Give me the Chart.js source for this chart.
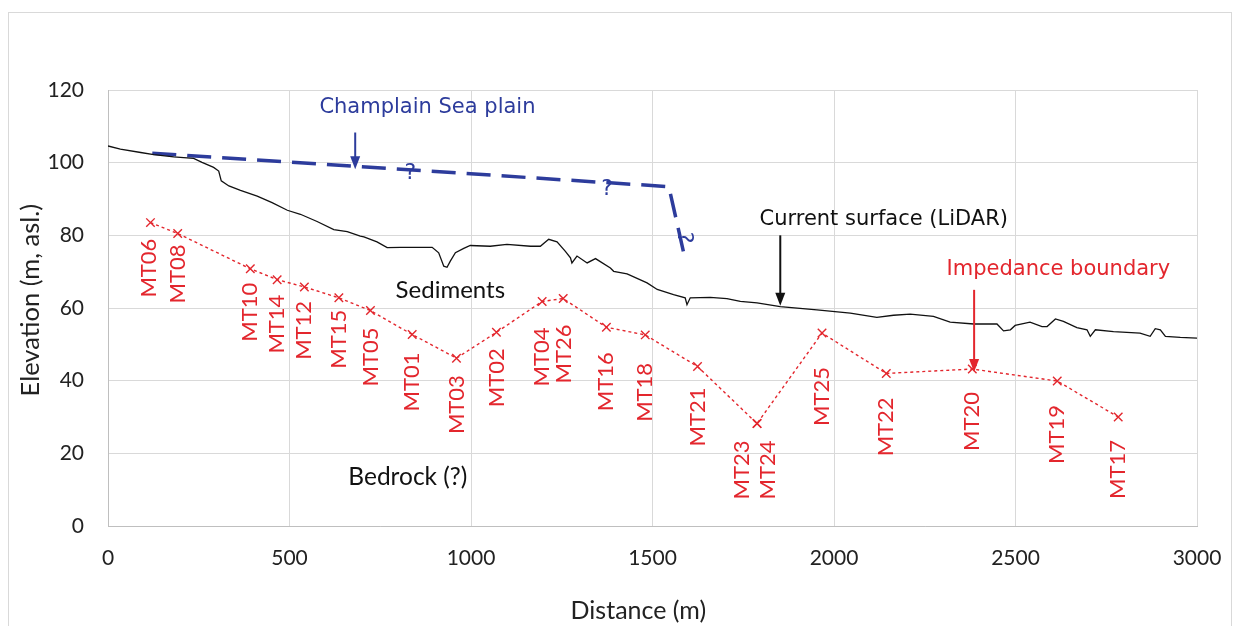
<!DOCTYPE html>
<html>
<head>
<meta charset="utf-8">
<title>Elevation profile</title>
<script src="https://cdn.jsdelivr.net/npm/chart.js@4.4.1/dist/chart.umd.min.js"></script>
<style>
  html, body { margin: 0; padding: 0; background: #ffffff; }
  #wrap { width: 1234px; height: 626px; position: relative; }
</style>
</head>
<body>
<div id="wrap"><canvas id="profile" width="1234" height="626"></canvas></div>
<script>
// ---- Ground surface from LiDAR: distance (m) and elevation (m asl) ----
const surfaceDistance = [0, 34, 90, 126, 181, 236, 259, 291, 305, 312, 333, 365, 411, 452, 494, 530, 576, 622, 659, 695,
  705, 741, 769, 806, 893, 911, 925, 934, 943, 957, 980, 998, 1053, 1099, 1164, 1191, 1214, 1237, 1260, 1274,
  1278, 1292, 1320, 1343, 1384, 1393, 1430, 1485, 1513, 1558, 1590, 1595, 1604, 1659, 1705, 1742, 1788, 1852, 1953, 2045,
  2118, 2164, 2210, 2274, 2320, 2385, 2449, 2467, 2486, 2499, 2540, 2573, 2587, 2610, 2632, 2669, 2697, 2706, 2720, 2770,
  2843, 2871, 2885, 2899, 2913, 2954, 3000];
const surfaceElevation = [104.6, 103.7, 102.8, 102.2, 101.6, 101.2, 100.1, 98.7, 97.7, 95.0, 93.6, 92.4, 90.8, 89.0, 86.9, 85.8, 83.8, 81.6, 81.0, 79.8,
  79.6, 78.2, 76.6, 76.7, 76.7, 75.2, 71.5, 71.2, 72.9, 75.2, 76.4, 77.2, 77.0, 77.5, 77.0, 77.0, 78.9, 78.2, 75.6, 73.8,
  72.4, 74.3, 72.4, 73.6, 71.0, 70.1, 69.4, 66.9, 65.1, 63.7, 62.8, 60.9, 62.8, 62.9, 62.6, 61.8, 61.4, 60.4, 59.5, 58.6,
  57.4, 58.0, 58.3, 57.7, 56.1, 55.6, 55.6, 53.7, 54.0, 55.2, 56.1, 54.9, 54.9, 57.0, 56.3, 54.6, 54.0, 52.2, 54.0, 53.5,
  53.1, 52.2, 54.3, 54.0, 52.2, 51.9, 51.7];

// ---- Interpreted Champlain Sea plain ----
const plainDistance = [122, 1545, 1591];
const plainElevation = [102.6, 93.4, 72.9];

// ---- MT soundings: impedance boundary depth ----
const mtStations = ['MT06', 'MT08', 'MT10', 'MT14', 'MT12', 'MT15', 'MT05', 'MT01', 'MT03', 'MT02', 'MT04',
  'MT26', 'MT16', 'MT18', 'MT21', 'MT23', 'MT24', 'MT25', 'MT22', 'MT20', 'MT19', 'MT17'];
const mtDistance = [117, 192, 392, 466, 541, 636, 723, 838, 960, 1070, 1196,
  1254, 1373, 1480, 1624, 1788, 1788, 1967, 2144, 2381, 2615, 2783];
const mtElevation = [83.5, 80.5, 70.8, 67.8, 65.8, 62.8, 59.3, 52.7, 46.2, 53.3, 61.8,
  62.6, 54.7, 52.6, 43.9, 28.2, 28.2, 53.1, 42.0, 43.2, 39.9, 30.0];

// ---- Axis ticks and titles ----
const xTicks = [0, 500, 1000, 1500, 2000, 2500, 3000];
const yTicks = [0, 20, 40, 60, 80, 100, 120];
const xTitle = 'Distance (m)';
const yTitle = 'Elevation (m, asl.)';

// ---- Styling (label placement in pixels, colours, fonts) ----
const RED = '#e3262d';
const BLUE = '#2d3c9c';
const GRID = '#d9d9d9';
const INK = '#222222';
const SANS = 'Lato, "Open Sans", sans-serif';
const VERD = '"DejaVu Sans", sans-serif';
const labelGap = [16, 11, 14, 15, 14, 12, 17, 18, 17, 16, 26, 26, 25, 28, 21, 17, 17, 34, 24, 23, 24, 23];
const labelShift = [-2, 0, 0, 0, 0, 0, 0, 0, 0, 0, 0, 1, 0, 0, 0, -15, 11, 0, 0, 0, 0, 0];

const toPoints = (xs, ys) => xs.map((x, i) => ({ x: x, y: ys[i] }));

// Text and arrow notes, anchored in data units
const notes = [
  { text: 'Champlain Sea plain', x: 880, y: 115.3, color: BLUE, font: '21px ' + VERD },
  { text: 'Current surface (LiDAR)', x: 2137, y: 84.4, color: '#111111', font: '21px ' + VERD },
  { text: 'Impedance boundary', x: 2618, y: 70.6, color: RED, font: '21px ' + VERD },
  { text: 'Sediments', x: 943, y: 64.8, color: '#111111', font: '24px ' + SANS },
  { text: 'Bedrock (?)', x: 826, y: 13.4, color: '#111111', font: '24.5px ' + SANS },
  { text: '?', x: 833, y: 97.2, color: BLUE, font: '22px ' + VERD, rot: 0 },
  { text: '?', x: 1375, y: 92.6, color: BLUE, font: '22px ' + VERD, rot: 0 },
  { text: '?', x: 1585, y: 79.4, color: BLUE, font: '22px ' + VERD, rot: Math.PI / 2 }
];
const arrows = [
  { x: 681, y1: 108.3, y2: 98.2, color: BLUE },
  { x: 1852, y1: 80.0, y2: 60.6, color: '#111111' },
  { x: 2386, y1: 65.0, y2: 42.4, color: RED }
];

const frame = {
  id: 'frame',
  beforeDraw(chart) {
    const c = chart.ctx;
    c.save();
    c.fillStyle = '#ffffff';
    c.fillRect(0, 0, chart.width, chart.height);
    c.strokeStyle = '#d9d9d9';
    c.lineWidth = 1;
    c.strokeRect(8.5, 12.5, 1223, 700);
    c.restore();
  },
  afterDraw(chart) {
    // axis titles
    const c = chart.ctx;
    const a = chart.chartArea;
    c.save();
    c.fillStyle = INK;
    c.textAlign = 'center';
    c.textBaseline = 'middle';
    c.font = '25px ' + SANS;
    c.fillText(xTitle, a.left + (a.right - a.left) * 0.487, 611);
    c.translate(31, a.top + (a.bottom - a.top) * 0.482);
    c.rotate(-Math.PI / 2);
    c.font = '25.5px ' + SANS;
    c.fillText(yTitle, 0, 0);
    c.restore();
  }
};

const annotate = {
  id: 'annotate',
  afterDatasetsDraw(chart) {
    const c = chart.ctx;
    const xs = chart.scales.x, ys = chart.scales.y;
    c.save();
    // station names, rotated, hanging below each marker
    c.font = '22px ' + SANS;
    c.fillStyle = RED;
    c.textAlign = 'right';
    c.textBaseline = 'middle';
    mtStations.forEach((name, i) => {
      const px = xs.getPixelForValue(mtDistance[i]) + labelShift[i];
      const py = ys.getPixelForValue(mtElevation[i]) + labelGap[i];
      c.save();
      c.translate(px, py);
      c.rotate(-Math.PI / 2);
      c.fillText(name, 0, 0);
      c.restore();
    });
    // arrows
    arrows.forEach(a => {
      const px = xs.getPixelForValue(a.x);
      const top = ys.getPixelForValue(a.y1);
      const tip = ys.getPixelForValue(a.y2);
      c.strokeStyle = a.color;
      c.fillStyle = a.color;
      c.lineWidth = 2;
      c.beginPath();
      c.moveTo(px, top);
      c.lineTo(px, tip - 10);
      c.stroke();
      c.beginPath();
      c.moveTo(px - 5, tip - 13);
      c.lineTo(px + 5, tip - 13);
      c.lineTo(px, tip);
      c.closePath();
      c.fill();
    });
    // notes
    c.textAlign = 'center';
    c.textBaseline = 'middle';
    notes.forEach(n => {
      c.save();
      c.font = n.font;
      c.fillStyle = n.color;
      c.translate(xs.getPixelForValue(n.x), ys.getPixelForValue(n.y));
      if (n.rot) c.rotate(n.rot);
      c.fillText(n.text, 0, 0);
      c.restore();
    });
    c.restore();
  }
};

new Chart(document.getElementById('profile'), {
  type: 'scatter',
  data: {
    datasets: [
      {
        label: 'Current surface (LiDAR)',
        data: toPoints(surfaceDistance, surfaceElevation),
        showLine: true,
        borderColor: '#111111',
        borderWidth: 1.3,
        pointRadius: 0,
        tension: 0
      },
      {
        label: 'Champlain Sea plain',
        data: toPoints(plainDistance, plainElevation),
        showLine: true,
        borderColor: BLUE,
        borderWidth: 3.5,
        borderDash: [24, 11],
        pointRadius: 0,
        tension: 0
      },
      {
        label: 'Impedance boundary',
        data: toPoints(mtDistance, mtElevation),
        showLine: true,
        borderColor: RED,
        borderWidth: 1.4,
        borderDash: [3, 3],
        pointStyle: 'crossRot',
        pointRadius: 6,
        pointBorderColor: RED,
        pointBorderWidth: 1.4,
        tension: 0
      }
    ]
  },
  options: {
    responsive: false,
    animation: false,
    devicePixelRatio: 1,
    layout: { padding: { top: 90, right: 37, left: 0, bottom: 0 } },
    plugins: { legend: { display: false }, tooltip: { enabled: false } },
    scales: {
      x: {
        type: 'linear',
        min: 0,
        max: 3000,
        afterBuildTicks: s => { s.ticks = xTicks.map(v => ({ value: v })); },
        afterFit: s => { s.height = 100; s.paddingLeft = 0; s.paddingRight = 0; },
        grid: { color: GRID, lineWidth: 1, drawTicks: false },
        border: { color: '#bfbfbf', width: 1 },
        ticks: { color: INK, font: { family: SANS, size: 21 }, padding: 20, maxRotation: 0, callback: v => String(v) },
        title: { display: false }
      },
      y: {
        type: 'linear',
        min: 0,
        max: 120,
        afterBuildTicks: s => { s.ticks = yTicks.map(v => ({ value: v })); },
        afterFit: s => { s.width = 108; s.paddingTop = 0; s.paddingBottom = 0; },
        grid: { color: GRID, lineWidth: 1, drawTicks: false },
        border: { color: '#bfbfbf', width: 1 },
        ticks: { color: INK, font: { family: SANS, size: 21 }, padding: 24, callback: v => String(v) },
        title: { display: false }
      }
    }
  },
  plugins: [frame, annotate]
});
</script>
</body>
</html>
